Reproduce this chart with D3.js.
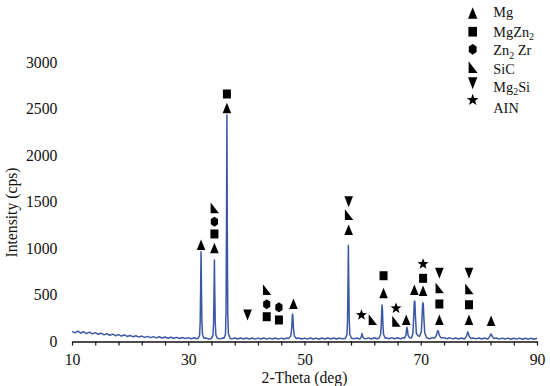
<!DOCTYPE html>
<html>
<head>
<meta charset="utf-8">
<script src="https://cdn.jsdelivr.net/npm/d3@7"></script>
<style>
  html, body { margin: 0; padding: 0; background: #fff; }
  svg { display: block; }
  text { font-family: "Liberation Serif", "Times New Roman", serif; fill: #111; }
</style>
</head>
<body>
<svg id="chart" width="550" height="386"></svg>
<script>
// ---------------- DATA ----------------
// Background intensity read every 0.5 deg from 10 to 90 (2-Theta)
const baseStart = 10, baseStep = 0.5;
const baseline = [
  104, 88, 106, 84, 99, 80, 95, 76, 90, 72, 84, 66, 79, 62, 74, 57, 69, 53, 65, 49,
  60, 45, 56, 42, 53, 39, 50, 36, 47, 34, 45, 32, 43, 30, 41, 29, 39, 27, 38, 26,
  36, 25, 35, 24,
  33, 23, 34, 22, 33, 24, 34, 23, 33, 25, 34, 23, 33, 21, 32, 22, 33, 21, 32, 20,
  31, 21, 32, 20, 31, 21, 32, 20, 31, 22, 32, 24, 33, 23, 32, 21,
  31, 20, 32, 21, 31, 19, 32, 21, 33, 22, 32, 21, 33, 23, 34, 24, 35, 23, 33, 22,
  33, 23, 34, 22, 35, 24, 34, 23, 35, 25, 36, 24, 35, 25, 36, 26, 37, 25, 36, 26,
  36, 25, 35, 24, 36, 26, 37, 27, 36, 25, 34, 23, 33, 22, 32, 21, 33, 22, 32, 23,
  33, 21, 32, 20, 31, 21, 32, 20, 31, 21, 31, 19, 30, 20, 31, 19, 30, 20, 30, 19,
  29
];

// Diffraction peaks: [2-Theta, intensity] points
const peak32 = [[31.7,29],[31.95,60],[32.05,200],[32.13,560],[32.2,960],[32.27,560],[32.35,200],[32.45,70],[32.7,30]];
const peak34 = [[34.0,28],[34.25,60],[34.35,190],[34.43,500],[34.5,870],[34.57,500],[34.65,190],[34.75,65],[35.0,30]];
const peak36 = [[36.15,30],[36.4,70],[36.5,300],[36.58,1200],[36.65,2430],[36.72,1200],[36.8,300],[36.9,80],[37.2,30]];
const peak48 = [[47.3,28],[47.65,55],[47.8,140],[47.9,260],[47.95,290],[48.0,260],[48.1,140],[48.25,55],[48.6,27]];
const peak57 = [[57.0,28],[57.3,65],[57.4,220],[57.48,600],[57.55,1030],[57.62,600],[57.7,220],[57.8,70],[58.1,30]];
const peak60 = [[59.6,27],[59.8,50],[59.9,80],[60.0,50],[60.2,28]];
const peak63 = [[62.8,30],[63.1,70],[63.2,170],[63.28,320],[63.35,387],[63.42,320],[63.5,170],[63.6,70],[63.9,30]];
const peak67 = [[67.2,30],[67.45,60],[67.55,120],[67.63,147],[67.72,120],[67.82,60],[68.05,35]];
const peak69 = [[68.4,32],[68.65,80],[68.78,250],[68.88,410],[68.94,430],[69.0,410],[69.1,250],[69.25,80],[69.55,55]];
const peak70 = [[69.8,50],[70.1,100],[70.22,250],[70.32,390],[70.38,412],[70.44,390],[70.54,250],[70.68,90],[71.0,35]];
const peak73 = [[72.4,32],[72.7,60],[72.85,100],[72.95,111],[73.05,100],[73.2,60],[73.5,34]];
const peak78 = [[77.6,28],[77.9,55],[78.02,88],[78.1,97],[78.18,88],[78.3,55],[78.6,28]];
const peak82 = [[81.6,26],[81.9,50],[82.02,70],[82.1,75],[82.18,70],[82.3,48],[82.6,26]];
const peaks = [peak32, peak34, peak36, peak48, peak57, peak60, peak63, peak67, peak69, peak70, peak73, peak78, peak82];

// Phase markers: [2-Theta, intensity, phase]
const markers = [
  [32.2, 1032, "Mg"],
  [34.5, 997, "Mg"], [34.5, 1151, "MgZn2"], [34.5, 1283, "Zn2Zr"], [34.5, 1427, "SiC"],
  [36.65, 2502, "Mg"], [36.65, 2656, "MgZn2"],
  [40.2, 280, "Mg2Si"],
  [43.5, 261, "MgZn2"], [43.5, 395, "Zn2Zr"], [43.5, 548, "SiC"],
  [45.6, 226, "MgZn2"], [45.6, 362, "Zn2Zr"],
  [48.1, 398, "Mg"],
  [57.6, 1194, "Mg"], [57.6, 1355, "SiC"], [57.6, 1498, "Mg2Si"],
  [59.8, 280, "AlN"],
  [61.7, 226, "SiC"],
  [63.6, 513, "Mg"], [63.6, 702, "MgZn2"],
  [65.75, 208, "SiC"], [65.75, 352, "AlN"],
  [67.5, 226, "Mg"],
  [68.9, 548, "Mg"],
  [70.4, 538, "Mg"], [70.4, 674, "MgZn2"], [70.4, 828, "AlN"],
  [73.2, 226, "Mg"], [73.2, 398, "MgZn2"], [73.2, 567, "SiC"], [73.2, 728, "Mg2Si"],
  [78.3, 226, "Mg"], [78.3, 390, "MgZn2"], [78.3, 556, "SiC"], [78.3, 728, "Mg2Si"],
  [82.1, 215, "Mg"]
];

const legendKeys = ["Mg", "MgZn2", "Zn2Zr", "SiC", "Mg2Si", "AlN"];
const legendLabels = [["Mg"], ["MgZn", "2"], ["Zn", "2", " Zr"], ["SiC"], ["Mg", "2", "Si"], ["AIN"]];

const xDomain = [10, 90];
const yDomain = [0, 3000];
const xTicks = d3.range(10, 90.01, 4);
const xLabelTicks = [10, 30, 50, 70, 90];
const yTicks = [0, 500, 1000, 1500, 2000, 2500, 3000];

// ---------------- BUILD SERIES ----------------
let series = baseline.map((v, i) => [baseStart + i * baseStep, v]);
peaks.forEach(p => {
  const lo = p[0][0], hi = p[p.length - 1][0];
  series = series.filter(d => d[0] < lo || d[0] > hi);
  series = series.concat(p);
});
series.sort((a, b) => a[0] - b[0]);

// ---------------- DRAW ----------------
const svg = d3.select("#chart");
const x = d3.scaleLinear().domain(xDomain).range([72, 537]);
const y = d3.scaleLinear().domain(yDomain).range([341, 62]);
const fs = 15.7;

// data line
svg.append("path")
  .datum(series)
  .attr("fill", "none")
  .attr("stroke", "#3a58a6")
  .attr("stroke-width", 1.5)
  .attr("stroke-linejoin", "round")
  .attr("d", d3.line().x(d => x(d[0])).y(d => y(d[1])));

// x axis
const xAxis = svg.append("g")
  .attr("transform", "translate(0,341.5)")
  .call(d3.axisBottom(x).tickValues(xTicks).tickSize(4).tickSizeOuter(0).tickPadding(8.5)
    .tickFormat(d => xLabelTicks.includes(d) ? d : ""));
xAxis.select(".domain").attr("stroke", "#111").attr("stroke-width", 1.4);
xAxis.selectAll(".tick line").attr("stroke", "#111").attr("stroke-width", 1.2);
xAxis.selectAll(".tick text").attr("font-size", fs).attr("font-family", '"Liberation Serif", serif').attr("fill", "#111");

// y axis (labels only)
const yAxis = svg.append("g")
  .attr("transform", "translate(72,0)")
  .call(d3.axisLeft(y).tickValues(yTicks).tickSize(0).tickPadding(14.7).tickFormat(d3.format("d")));
yAxis.select(".domain").remove();
yAxis.selectAll(".tick text").attr("font-size", fs).attr("font-family", '"Liberation Serif", serif').attr("fill", "#111");

// titles
svg.append("text")
  .attr("transform", "translate(16.5,212.5) rotate(-90)")
  .attr("text-anchor", "middle")
  .attr("font-size", fs)
  .text("Intensity (cps)");
svg.append("text")
  .attr("x", 304.5).attr("y", 383)
  .attr("text-anchor", "middle")
  .attr("font-size", fs)
  .text("2-Theta (deg)");

// symbol paths
function starPath(ro, ri) {
  let p = "";
  for (let k = 0; k < 10; k++) {
    const r = k % 2 === 0 ? ro : ri;
    const a = -Math.PI / 2 + k * Math.PI / 5;
    p += (k === 0 ? "M" : "L") + (r * Math.cos(a)).toFixed(2) + "," + (r * Math.sin(a)).toFixed(2);
  }
  return p + "Z";
}
const symbolPaths = {
  "Mg": "M0,-5.5L4.3,5L-4.3,5Z",
  "MgZn2": "M-4,-4.5L4,-4.5L4,4.5L-4,4.5Z",
  "Zn2Zr": "M-3.6,-2.6L0,-5L3.6,-2.6L3.6,2.6L0,5L-3.6,2.6Z",
  "SiC": "M-3.8,-5.8L-3.8,5L4.6,5Z",
  "Mg2Si": "M-4.3,-5.5L4.3,-5.5L0,5.5Z",
  "AlN": starPath(5.8, 2.4)
};

svg.append("g").selectAll("path")
  .data(markers)
  .join("path")
  .attr("transform", d => `translate(${x(d[0])},${y(d[1])})`)
  .attr("d", d => symbolPaths[d[2]])
  .attr("fill", "#000");

// legend
const symY = [13.3, 31.7, 49.3, 67.5, 83.3, 100];
const txtY = [17.3, 36.5, 55, 74, 91.7, 112.5];
const lg = svg.append("g");
legendKeys.forEach((k, i) => {
  lg.append("path")
    .attr("transform", `translate(472.7,${symY[i]}) scale(1.08)`)
    .attr("d", symbolPaths[k])
    .attr("fill", "#000");
  const t = lg.append("text").attr("x", 493.3).attr("y", txtY[i]).attr("font-size", 14.3);
  const parts = legendLabels[i];
  parts.forEach((s, j) => {
    const isSub = (s === "2");
    t.append("tspan")
      .attr("font-size", isSub ? 10 : 14.3)
      .attr("dy", isSub ? 3.5 : (j > 0 ? -3.5 : 0))
      .text(s);
  });
});
</script>
</body>
</html>
